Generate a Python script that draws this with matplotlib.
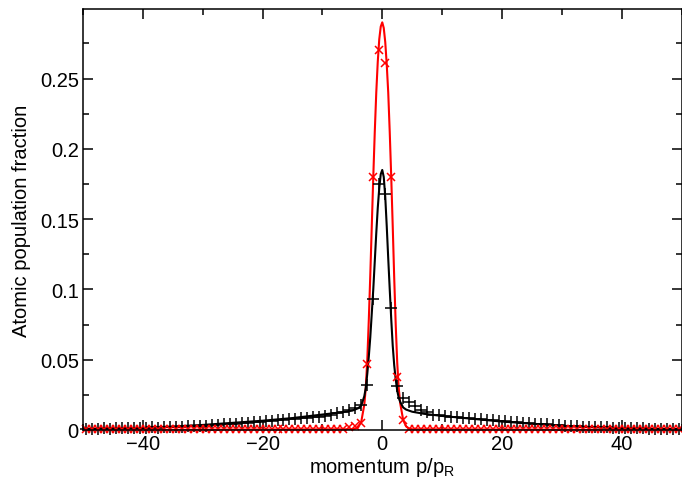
import numpy as np
import matplotlib
matplotlib.use("Agg")
import matplotlib.pyplot as plt
from matplotlib.ticker import MultipleLocator, FormatStrFormatter

plt.rcParams['font.family'] = ['Liberation Sans', 'DejaVu Sans']
plt.rcParams['mathtext.fontset'] = 'custom'
plt.rcParams['mathtext.rm'] = 'Liberation Sans'

# measured points sit on half-integer momenta
p_data = np.arange(-49.5, 50, 1.0)

black_left = [0.001, 0.0008, 0.001, 0.0012, 0.001, 0.0012, 0.0014, 0.0012, 0.0015, 0.0014,
              0.0016, 0.0018, 0.0016, 0.002, 0.0022, 0.002, 0.0024, 0.0026, 0.0028, 0.003,
              0.0032, 0.0034, 0.0036, 0.004, 0.0042, 0.0045, 0.0048, 0.005, 0.0055, 0.006,
              0.0062, 0.0066, 0.0068, 0.0072, 0.0075, 0.008, 0.0082, 0.0086, 0.009, 0.0095,
              0.010, 0.011, 0.012, 0.013, 0.014, 0.016, 0.018, 0.032, 0.093, 0.175]
black_right = [0.168, 0.087, 0.031, 0.023, 0.020, 0.017, 0.014, 0.013, 0.011, 0.0105,
               0.010, 0.0095, 0.009, 0.0088, 0.0085, 0.008, 0.0078, 0.0072, 0.007, 0.0066,
               0.0062, 0.006, 0.0056, 0.0052, 0.005, 0.0046, 0.0042, 0.004, 0.0036, 0.0034,
               0.003, 0.0028, 0.0026, 0.0024, 0.0022, 0.002, 0.002, 0.0018, 0.0016, 0.0015,
               0.0014, 0.0013, 0.0012, 0.0011, 0.001, 0.001, 0.0009, 0.0008, 0.0008, 0.0007]
black_pts = black_left + black_right

red_left = [0.0005] * 44 + [0.002, 0.003, 0.005, 0.047, 0.18, 0.27]
red_right = [0.261, 0.18, 0.038, 0.007, 0.001] + [0.0005] * 45
red_pts = red_left + red_right

# fitted curves
p_black = [-50, -40, -30, -20, -15, -10, -7, -5, -4, -3.5, -3, -2.75, -2.5, -2.25, -2,
           -1.75, -1.5, -1.25, -1, -0.75, -0.5, -0.25, 0, 0.25, 0.5, 0.75, 1, 1.25, 1.5,
           1.75, 2, 2.25, 2.5, 2.75, 3, 3.5, 4, 5, 7, 10, 15, 20, 30, 40, 50]
v_black = [0.0008, 0.0014, 0.0036, 0.0066, 0.0085, 0.011, 0.0125, 0.0138, 0.0155, 0.0175,
           0.024, 0.03, 0.04, 0.052, 0.066, 0.083, 0.10, 0.12, 0.14, 0.158, 0.172, 0.182,
           0.185, 0.18, 0.166, 0.145, 0.122, 0.10, 0.079, 0.06, 0.046, 0.036, 0.028, 0.023,
           0.02, 0.016, 0.0145, 0.013, 0.0115, 0.010, 0.008, 0.006, 0.003, 0.0012, 0.0006]

p_red = [-50, -5, -4.5, -4, -3.5, -3, -2.75, -2.5, -2.25, -2, -1.75, -1.5, -1.25, -1,
         -0.75, -0.5, -0.25, 0, 0.25, 0.5, 0.75, 1, 1.25, 1.5, 1.75, 2, 2.25, 2.5, 2.75,
         3, 3.5, 4, 4.5, 5, 50]
v_red = [0.0, 0.0005, 0.001, 0.002, 0.006, 0.018, 0.03, 0.05, 0.078, 0.11, 0.145, 0.18,
         0.212, 0.24, 0.262, 0.278, 0.287, 0.29, 0.286, 0.276, 0.26, 0.24, 0.212, 0.18,
         0.145, 0.108, 0.075, 0.048, 0.03, 0.019, 0.007, 0.0025, 0.001, 0.0005, 0.0]

fig = plt.figure(figsize=(6.82, 4.81), dpi=100)
ax = fig.add_axes([83 / 682, 1 - 431 / 481, 598.5 / 682, 421 / 481])

ax.plot(p_red, v_red, color='red', lw=1.5)
ax.plot(p_black, v_black, color='black', lw=1.5)
ax.plot(p_data, black_pts, ls='none', marker='+', color='black', ms=9, mew=1.1, clip_on=False)
ax.plot(p_data, red_pts, ls='none', marker='x', color='red', ms=6, mew=1.1, clip_on=False)

ax.set_xlim(-50, 50)
ax.set_ylim(0, 0.2995)
ax.xaxis.set_major_locator(MultipleLocator(20))
ax.xaxis.set_minor_locator(MultipleLocator(10))
ax.yaxis.set_major_locator(MultipleLocator(0.05))
ax.yaxis.set_minor_locator(MultipleLocator(0.025))
ax.yaxis.set_major_formatter(FormatStrFormatter('%g'))
ax.tick_params(which='both', direction='in', top=True, right=True, labelsize=14.5,
               width=1.1, pad=3)
ax.tick_params(which='major', length=7.5)
ax.tick_params(which='minor', length=4.5)
for s in ax.spines.values():
    s.set_linewidth(1.1)

ax.set_xlabel(r'momentum p/p$_\mathregular{R}$', fontsize=14.5, labelpad=1)
ax.set_ylabel('Atomic population fraction', fontsize=14.5, labelpad=6)

fig.savefig('out.png', dpi=100)
